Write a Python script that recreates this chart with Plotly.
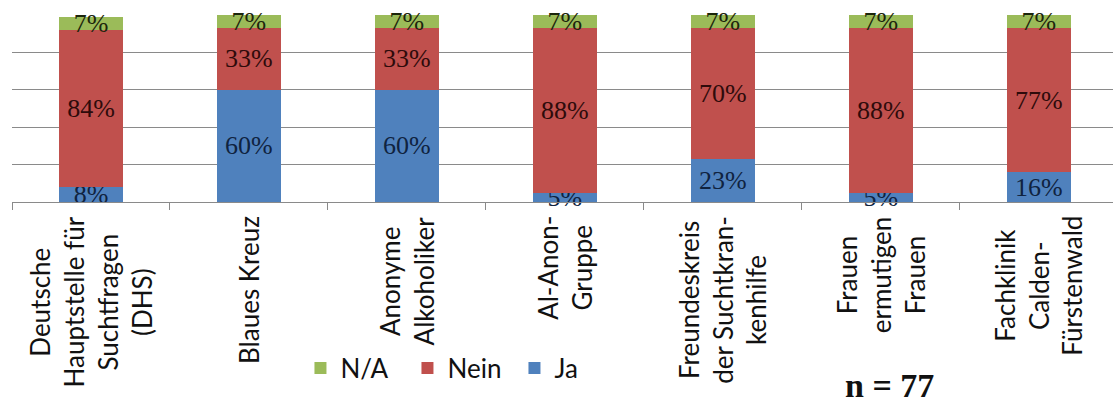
import plotly.graph_objects as go

categories = [
    "Deutsche<br>Hauptstelle für<br>Suchtfragen<br>(DHS)",
    "Blaues Kreuz",
    "Anonyme<br>Alkoholiker",
    "Al-Anon-<br>Gruppe",
    "Freundeskreis<br>der Suchtkran-<br>kenhilfe",
    "Frauen<br>ermutigen<br>Frauen",
    "Fachklinik<br>Calden-<br>Fürstenwald",
]
ja = [8, 60, 60, 5, 23, 5, 16]
nein = [84, 33, 33, 88, 70, 88, 77]
na = [7, 7, 7, 7, 7, 7, 7]
sample_note = "n = 77"

series = [
    ("Ja", ja, "#4F81BD", "#0f2340"),
    ("Nein", nein, "#C0504D", "#2e0b0b"),
    ("N/A", na, "#9BBB59", "#1c260c"),
]

fig = go.Figure()
for name, vals, col, tcol in series:
    fig.add_trace(go.Bar(
        name=name, x=categories, y=vals,
        marker=dict(color=col, line=dict(width=0)),
        texttemplate="%{y}%", textposition="inside", textangle=0,
        insidetextanchor="middle",
        textfont=dict(family="Liberation Serif", size=26, color=tcol),
        cliponaxis=False,
    ))

annotations = []
for c in categories:
    annotations.append(dict(
        x=c, xref="x", y=0, yref="paper", yshift=-12,
        text=c, textangle=-90, showarrow=False,
        xanchor="center", yanchor="top", align="center",
        font=dict(family="Lato", size=26, color="#111111"),
    ))
annotations.append(dict(
    x=(889 - 12) / 1101, xref="paper", y=-(384 - 201) / 187, yref="paper",
    text="<b>" + sample_note + "</b>", showarrow=False,
    xanchor="center", yanchor="middle",
    font=dict(family="Liberation Serif", size=34, color="#111111"),
))

fig.update_layout(
    width=1113, height=403,
    margin=dict(l=12, r=0, t=15, b=201),
    barmode="stack", bargap=0.595,
    plot_bgcolor="white", paper_bgcolor="white",
    uniformtext=dict(minsize=26, mode="show"),
    showlegend=True,
    legend=dict(
        orientation="h", traceorder="reversed",
        x=0.262, xanchor="left", y=-(367 - 201) / 187, yanchor="middle",
        font=dict(family="Lato", size=26, color="#111111"),
        bgcolor="rgba(0,0,0,0)",
        entrywidth=62, entrywidthmode="pixels",
    ),
    annotations=annotations,
)
fig.update_xaxes(
    type="category", range=[-0.5, 6.47],
    showline=True, linecolor="#8a8a8a", linewidth=1,
    ticks="outside", tickson="boundaries", ticklen=7, tickcolor="#8a8a8a",
    showticklabels=False, showgrid=False,
)
fig.update_yaxes(
    range=[0, 100], dtick=20, showgrid=True, gridcolor="#8a8a8a", gridwidth=1,
    showticklabels=False, zeroline=False, showline=False, ticks="",
)

fig.write_html("out.html")
